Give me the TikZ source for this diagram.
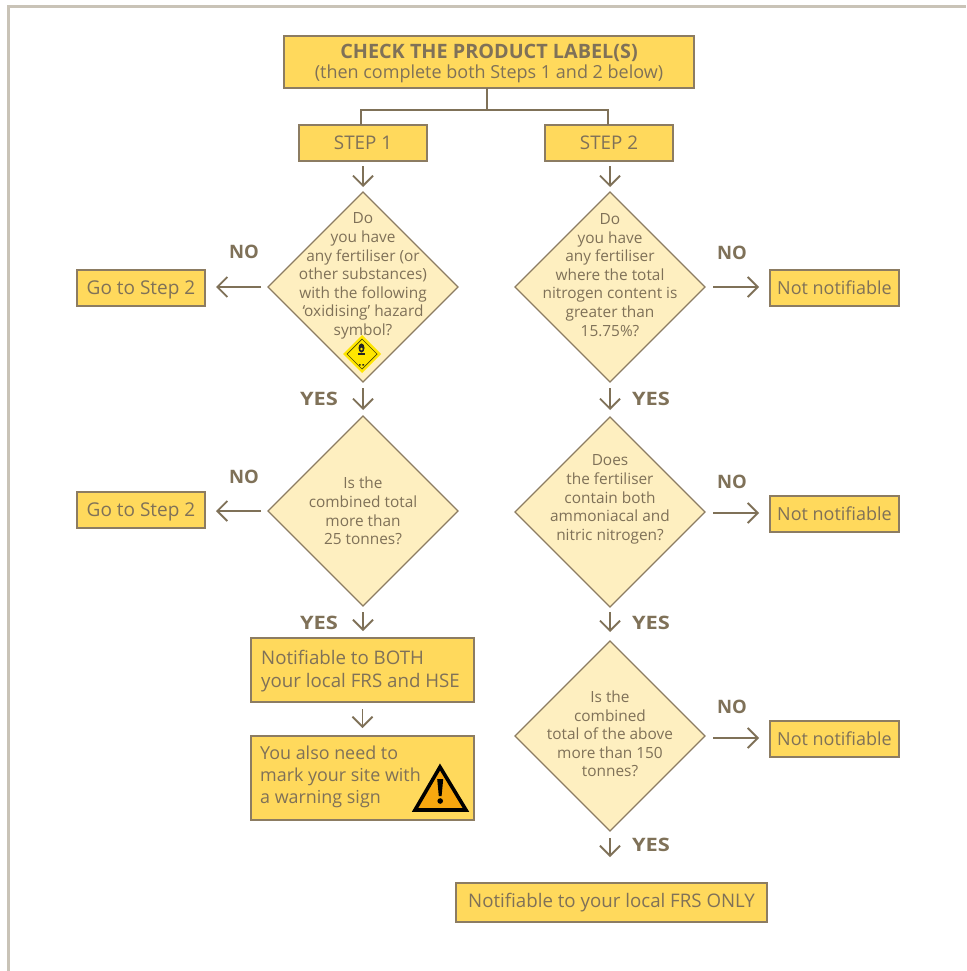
\documentclass[tikz,border=0pt]{standalone}
\usepackage{fontspec}
\setmainfont{Open Sans}
\usetikzlibrary{shapes.geometric,arrows.meta}
\definecolor{ink}{HTML}{7F7158}
\definecolor{edge}{HTML}{8C7C62}
\definecolor{boxfill}{HTML}{FFD95C}
\definecolor{diafill}{HTML}{FEEFC0}
\definecolor{frame}{HTML}{C9C3B7}
\definecolor{warnfill}{HTML}{F7A70F}
\definecolor{hazfill}{HTML}{FFE600}
\tikzset{
 base/.style={draw=edge,line width=1.2pt,fill=boxfill,text=ink,inner sep=0pt,outer sep=0pt},
 onebox/.style={base,minimum width=#1,minimum height=36pt,font=\fontsize{18.8}{22}\selectfont,align=center},
 leftbox/.style={base,font=\fontsize{18}{24}\selectfont,align=left},
 choice/.style={draw=edge,line width=1.2pt,fill=diafill,diamond,aspect=1,minimum width=190pt,minimum height=190pt,inner sep=0pt,outer sep=0pt},
 choicetext/.style={text=ink,font=\fontsize{15.4}{18.6}\selectfont,align=center,inner sep=0pt},
 arr/.style={draw=ink,line width=1.8pt,-{Straight Barb[length=10pt,width=20pt,line width=1.8pt]}},
 link/.style={draw=ink,line width=1.8pt},
 ans/.style={text=ink,font=\fontsize{18.5}{20}\selectfont\bfseries,inner sep=0pt},
 yesans/.style={ans,font=\fontsize{18.5}{20}\selectfont\bfseries\addfontfeature{FakeStretch=1.18}},
}
\begin{document}
\begin{tikzpicture}[x=1pt,y=-1pt]
\useasboundingbox (0,0) rectangle (966,971);
\fill[white] (0,0) rectangle (966,971);
\draw[frame,line width=3pt] (8.5,971) -- (8.5,6.5) -- (966,6.5);

\node[base,minimum width=410pt,minimum height=52pt,align=center,font=\fontsize{18}{19.5}\selectfont] (title) at (489,62) {};
\node[text=ink,align=center,inner sep=0pt,font=\fontsize{18}{19.5}\selectfont] (titletext) at (489,63.5)
  {{\fontsize{19.8}{19.5}\selectfont\bfseries CHECK THE PRODUCT LABEL(S)}\\(then complete both Steps 1 and 2 below)};
\coordinate (hub) at (487,110);
\node[onebox=128pt] (step1) at (363,143) {STEP 1};
\node[onebox=128pt] (step2) at (609,143) {STEP 2};

\node[choice] (d1) at (363,287) {};
\node[choice] (d2) at (363,511) {};
\node[choice] (r1) at (610,287) {};
\node[choice] (r2) at (610,512) {};
\node[choice] (r3) at (610,736) {};

\node[choicetext] (d1t) at (363,276) {Do\\you have\\any fertiliser (or\\other substances)\\with the following\\‘oxidising’ hazard\\symbol?};
\node[choicetext] (d2t) at (363,511) {Is the\\combined total\\more than\\25 tonnes?};
\node[choicetext] (r1t) at (610,275) {Do\\you have\\any fertiliser\\where the total\\nitrogen content is\\greater than\\15.75\%?};
\node[choicetext] (r2t) at (610,499.5) {Does\\the fertiliser\\contain both\\ammoniacal and\\nitric nitrogen?};
\node[choicetext] (r3t) at (610,734) {Is the\\combined\\total of the above\\more than 150\\tonnes?};

\node[onebox=128pt] (g1) at (141,288) {};
\node[text=ink,inner sep=0pt,font=\fontsize{19}{22}\selectfont] (g1t) at (141,289.5) {Go to Step 2};
\node[onebox=128pt] (g2) at (141,510) {};
\node[text=ink,inner sep=0pt,font=\fontsize{19}{22}\selectfont] (g2t) at (141,511.5) {Go to Step 2};
\node[onebox=129pt,font=\fontsize{18}{22}\selectfont] (n1) at (834.5,288) {Not notifiable};
\node[onebox=129pt,font=\fontsize{18}{22}\selectfont] (n2) at (834.5,514) {Not notifiable};
\node[onebox=129pt,font=\fontsize{18}{22}\selectfont] (n3) at (834.5,739) {Not notifiable};

\node[leftbox,minimum width=223pt,minimum height=64pt] (both) at (362.5,670) {};
\node[text=ink,font=\fontsize{18.7}{23.5}\selectfont,align=left,anchor=west,inner sep=0pt] (bothtext) at (261,671) {Notifiable to BOTH\\your local FRS and HSE};
\node[leftbox,minimum width=223pt,minimum height=84pt] (mark) at (362.5,778) {};
\node[text=ink,font=\fontsize{17.9}{22}\selectfont,align=left,anchor=west,inner sep=0pt] (marktext) at (260,777) {You also need to\\mark your site with\\a warning sign};
\node[onebox=311pt,minimum height=39pt,font=\fontsize{18.7}{22}\selectfont] (final) at (611.5,902.5) {Notifiable to your local FRS ONLY};

% hazard sign
\fill[hazfill] (362,335) -- (381,354) -- (362,373) -- (343,354) -- cycle;
\draw[black!70!hazfill,line width=.7pt] (362,339) -- (377,354) -- (362,369) -- (347,354) -- cycle;
\fill[black!85] (361.5,348) ellipse (3pt and 4.6pt);
\fill[hazfill] (361.5,349) circle (1.3pt);
\fill[black!85] (358,353) rectangle (365,354.5);
\fill[black!85] (359,364) rectangle (360.6,365.6) (362.4,364) rectangle (364,365.6);

% warning sign
\draw[black,fill=warnfill,line width=3.6pt,line join=miter] (440,767) -- (466,810) -- (415,810) -- cycle;
\fill[black] (437.2,779) -- (443.2,779) -- (441.6,796) -- (438.8,796) -- cycle;
\fill[black] (440.2,801) circle (2.8pt);

% connectors
\draw[link] (title.south -| hub) -- (hub);
\draw[link] ([xshift=-2pt]step1.north) |- (hub) -| ([xshift=-1pt]step2.north);
\draw[arr,shorten <=5pt,shorten >=5pt] (step1.south) -- (d1.north);
\draw[arr,shorten <=5pt,shorten >=5pt] ([xshift=1pt]step2.south) -- (r1.north);
\draw[arr,shorten <=7pt,shorten >=11pt] (d1.west) -- (d1.west -| g1.east);
\draw[arr,shorten <=7pt,shorten >=11pt] (d2.west) -- (d2.west -| g2.east);
\draw[arr,shorten <=8pt,shorten >=11pt] (r1.east) -- (r1.east -| n1.west);
\draw[arr,shorten <=8pt,shorten >=11pt] ([yshift=-1pt]r2.east) -- ([yshift=1pt]n2.west);
\draw[arr,shorten <=8pt,shorten >=11pt] ([yshift=-2pt]r3.east) -- ([yshift=1pt]n3.west);
\draw[arr,shorten <=6pt,shorten >=6pt] (d1.south) -- (d2.north);
\draw[arr,shorten <=6pt,shorten >=7pt] (d2.south) -- (d2.south |- both.north);
\draw[arr,shorten <=7pt,shorten >=8pt] (both.south) -- (both.south |- mark.north);
\draw[arr,shorten <=6pt,shorten >=7pt] (r1.south) -- (r2.north);
\draw[arr,shorten <=5pt,shorten >=9pt] (r2.south) -- (r3.north);
\draw[arr,shorten <=7pt,shorten >=26pt] (r3.south) -- (r3.south |- final.north);

% answers
\node[ans] (no1) at (244,251.5) {NO};
\node[ans] (no2) at (244,476.5) {NO};
\node[ans] (no3) at (732,252.5) {NO};
\node[ans] (no4) at (732,481.5) {NO};
\node[ans] (no5) at (732,706.5) {NO};
\node[yesans] (yes1) at (319,398.5) {YES};
\node[yesans] (yes2) at (319,622.5) {YES};
\node[yesans] (yes3) at (651,398.5) {YES};
\node[yesans] (yes4) at (651,622.5) {YES};
\node[yesans] (yes5) at (651,844.5) {YES};
\end{tikzpicture}
\end{document}
